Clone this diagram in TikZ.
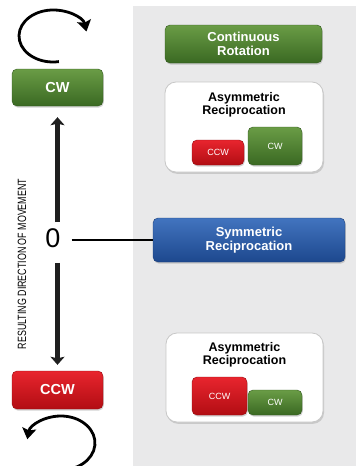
\documentclass[tikz,border=0pt]{standalone}
\usepackage{fontspec}
\setmainfont{Liberation Sans}
\usepackage{graphicx}
\usetikzlibrary{math}
\usetikzlibrary{arrows.meta,shadows,positioning}
\usepackage{xcolor}

\definecolor{greentop}{HTML}{6A9C46}
\definecolor{greenbot}{HTML}{3A6922}
\definecolor{redtop}{HTML}{E8252E}
\definecolor{redbot}{HTML}{B20D13}
\definecolor{bluetop}{HTML}{4274BF}
\definecolor{bluebot}{HTML}{1D488E}
\definecolor{panelgray}{HTML}{E9E9EA}

\begin{document}
\begin{tikzpicture}[x=1pt,y=1pt]

\tikzmath{
	\R = 5pt;
}

\tikzset{color box/.style 2 args={
    rounded corners=\R,
    top color=#1, bottom color=#2,
    draw=#2!85!black, line width=0.4pt,
    drop shadow={opacity=0.35, shadow xshift=0.8pt, shadow yshift=-1.6pt},
    text=white, align=center, inner sep=0pt
  },
  green box/.style={color box={greentop}{greenbot}},
  red box/.style={color box={redtop}{redbot}},
  blue box/.style={color box={bluetop}{bluebot}},
  big label/.style={font=\bfseries\fontsize{14.5}{15}\selectfont},
  small label/.style={font=\fontsize{9}{9.5}\selectfont},
  white panel/.style={
    rounded corners=11pt, fill=white, draw=black!22, line width=0.8pt,
    drop shadow={opacity=0.3, shadow xshift=1pt, shadow yshift=-1.8pt},
    inner sep=0pt
  },
  title text/.style={font=\bfseries\fontsize{12.5}{12.5}\selectfont, align=center, inner sep=0pt},
  box text/.style={font=\bfseries\fontsize{13}{14}\selectfont, align=center},
  move arrow/.style={line width=4.5pt, black!88, -{Stealth[length=8pt,width=14pt,inset=1.5pt]}},
  turn arrow/.style={line width=2.8pt, -{Stealth[length=11pt,width=14pt,inset=2pt]}}
}

\useasboundingbox (0,0) rectangle (356,-466);

% grey side panel
\fill[panelgray] (133,-6) rectangle (356,-466);

% left column
\node[green box, big label, minimum width=91pt, minimum height=37pt] (cw) at (57.5,-87.5) {CW};
\node[red box, big label, minimum width=91pt, minimum height=38pt] (ccw) at (57.5,-390) {CCW};
\node[font=\fontsize{27}{27}\selectfont, inner sep=6pt] (zero) at (53,-238) {0};
\node[rotate=90, inner sep=0pt, font=\fontsize{12}{12}\selectfont] (axis) at (22,-264)
  {\scalebox{0.74}[1]{RESULTING DIRECTION OF MOVEMENT}};

\draw[move arrow] (zero.north -| cw.south) -- ([yshift=-11pt]cw.south);
\draw[move arrow, shorten <=9pt] (zero.south -| ccw.north) -- ([yshift=6pt]ccw.north);

\draw[turn arrow] (53,-36) ++(-80:34 and 26) arc[start angle=-80, end angle=-350, x radius=34, y radius=26];
\draw[turn arrow] (61,-443) ++(-95:34 and 27) arc[start angle=-95, end angle=172, x radius=34, y radius=27];

% right column
\node[green box, box text, minimum width=157pt, minimum height=38pt] (cont) at (243.5,-44) {Continuous\\Rotation};

\node[white panel, minimum width=158pt, minimum height=90pt] (asym1) at (244,-127) {};
\node[title text] (asym1 title) at (244,-105) {Asymmetric\\Reciprocation};
\node[red box, small label, minimum width=52pt, minimum height=25pt] (asym1 ccw) at (218,-152.5) {CCW};
\node[green box, small label, minimum width=54pt, minimum height=38pt] (asym1 cw) at (275,-146) {CW};

\node[blue box, box text, minimum width=192pt, minimum height=44pt] (sym) at (249,-240) {Symmetric\\Reciprocation};

\node[white panel, minimum width=157pt, minimum height=89pt] (asym2) at (244.5,-377.5) {};
\node[title text] (asym2 title) at (244.5,-355) {Asymmetric\\Reciprocation};
\node[red box, small label, minimum width=55pt, minimum height=38pt] (asym2 ccw) at (219.5,-396) {CCW};
\node[green box, small label, minimum width=54pt, minimum height=25pt] (asym2 cw) at (275,-402.5) {CW};

\draw[line width=1.3pt, shorten <=5pt] (zero.east |- sym.west) -- (sym.west);

\end{tikzpicture}
\end{document}
